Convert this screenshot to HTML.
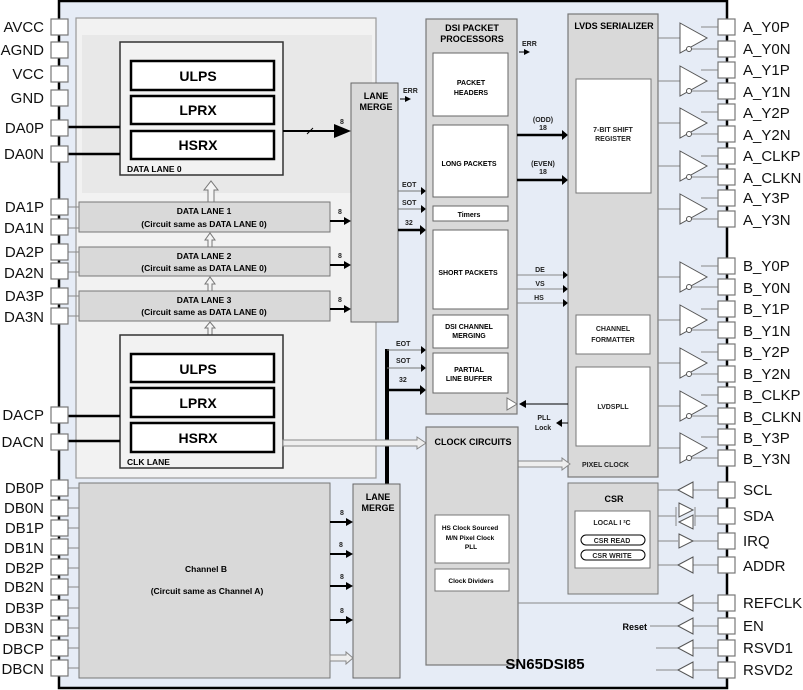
<!DOCTYPE html>
<html><head><meta charset="utf-8"><style>
html,body{margin:0;padding:0;background:#fff;}
svg{display:block;font-family:"Liberation Sans",Arial,sans-serif;}
.b{font-weight:bold;}
.pin{fill:#fff;stroke:#777;stroke-width:1.2;}
.pl{font-size:15px;fill:#111;}
.g{stroke:#888;stroke-width:1;fill:none;}
.s{font-size:7px;font-weight:bold;fill:#222;}
</style></head><body>
<svg width="803" height="690" viewBox="0 0 803 690">
<defs>
<marker id="ar" markerWidth="6" markerHeight="6" refX="5" refY="3" orient="auto" markerUnits="userSpaceOnUse"><path d="M0,0 L6,3 L0,6z" fill="#000"/></marker>
</defs>
<rect x="59" y="1" width="668" height="687" fill="#e6ecf6" stroke="#000" stroke-width="2.5"/>
<rect x="76" y="18" width="300" height="460" fill="#f2f2f2" stroke="#999" stroke-width="1.2"/>
<rect x="82" y="35" width="290" height="158" fill="#e8e8e8"/>
<rect x="120" y="42" width="163" height="133" fill="#f2f2f2" stroke="#333" stroke-width="1.5"/>
<rect x="131" y="61" width="143" height="29" fill="#fff" stroke="#000" stroke-width="2.5"/>
<rect x="131" y="96" width="143" height="28" fill="#fff" stroke="#000" stroke-width="2.5"/>
<rect x="131" y="131" width="143" height="28" fill="#fff" stroke="#000" stroke-width="2.5"/>
<text x="198" y="81" class="b" font-size="14" text-anchor="middle">ULPS</text>
<text x="198" y="115" class="b" font-size="14" text-anchor="middle">LPRX</text>
<text x="198" y="150" class="b" font-size="14" text-anchor="middle">HSRX</text>
<text x="127" y="172" class="b" font-size="8.5">DATA LANE 0</text>
<rect x="79" y="202" width="251" height="30" fill="#d9d9d9" stroke="#777"/>
<rect x="79" y="247" width="251" height="29" fill="#d9d9d9" stroke="#777"/>
<rect x="79" y="291" width="251" height="30" fill="#d9d9d9" stroke="#777"/>
<g class="b" font-size="8.5" text-anchor="middle">
<text x="204" y="214">DATA LANE 1</text><text x="204" y="227">(Circuit same as DATA LANE 0)</text>
<text x="204" y="259">DATA LANE 2</text><text x="204" y="271">(Circuit same as DATA LANE 0)</text>
<text x="204" y="303">DATA LANE 3</text><text x="204" y="315">(Circuit same as DATA LANE 0)</text>
</g>
<g fill="#f4f4f4" stroke="#777">
<path d="M208,202 V190 H204 L211,181 L218,190 H214 V202z"/>
<path d="M208,247 V240 H205 L210,233 L215,240 H212 V247z"/>
<path d="M208,291 V284 H205 L210,277 L215,284 H212 V291z"/>
<path d="M208,335 V328 H205 L210,322 L215,328 H212 V335z"/>
</g>
<rect x="120" y="335" width="163" height="133" fill="#f2f2f2" stroke="#333" stroke-width="1.5"/>
<rect x="131" y="354" width="143" height="28" fill="#fff" stroke="#000" stroke-width="2.5"/>
<rect x="131" y="388" width="143" height="29" fill="#fff" stroke="#000" stroke-width="2.5"/>
<rect x="131" y="423" width="143" height="29" fill="#fff" stroke="#000" stroke-width="2.5"/>
<text x="198" y="374" class="b" font-size="14" text-anchor="middle">ULPS</text>
<text x="198" y="408" class="b" font-size="14" text-anchor="middle">LPRX</text>
<text x="198" y="443" class="b" font-size="14" text-anchor="middle">HSRX</text>
<text x="127" y="465" class="b" font-size="8.5">CLK LANE</text>
<rect x="351" y="83" width="47" height="239" fill="#d9d9d9" stroke="#666"/>
<text x="376" y="99" class="b" font-size="9" text-anchor="middle">LANE</text>
<text x="376" y="110" class="b" font-size="9" text-anchor="middle">MERGE</text>
<text x="403" y="93" class="s">ERR</text><line x1="400" y1="99" x2="410" y2="99" stroke="#000" marker-end="url(#ar)"/>
<line x1="283" y1="131" x2="340" y2="131" stroke="#000" stroke-width="2"/>
<path d="M334,124 L351,131 L334,138z"/>
<line x1="307" y1="134" x2="313" y2="128" stroke="#000"/>
<text x="340" y="124" class="s">8</text>
<g stroke="#000" stroke-width="2"><line x1="330" y1="221" x2="345" y2="221"/><line x1="330" y1="265" x2="345" y2="265"/><line x1="330" y1="309" x2="345" y2="309"/></g>
<path d="M344,217 L351,221 L344,225z M344,261 L351,265 L344,269z M344,305 L351,309 L344,313z"/>
<text x="338" y="214" class="s">8</text><text x="338" y="258" class="s">8</text><text x="338" y="302" class="s">8</text>
<text x="402" y="187" class="s">EOT</text><line x1="398" y1="191" x2="424" y2="191" stroke="#777"/><path d="M421,187 L426,191 L421,195z"/>
<text x="402" y="205" class="s">SOT</text><line x1="398" y1="209" x2="424" y2="209" stroke="#777"/><path d="M421,205 L426,209 L421,213z"/>
<text x="405" y="225" class="s">32</text><line x1="398" y1="230" x2="422" y2="230" stroke="#000" stroke-width="2.5"/><path d="M420,225 L426,230 L420,235z"/>
<line x1="387" y1="349" x2="387" y2="484" stroke="#000" stroke-width="4"/>
<text x="396" y="346" class="s">EOT</text><line x1="387" y1="350" x2="424" y2="350" stroke="#777"/><path d="M421,346 L426,350 L421,354z"/>
<text x="396" y="363" class="s">SOT</text><line x1="387" y1="368" x2="424" y2="368" stroke="#777"/><path d="M421,364 L426,368 L421,372z"/>
<text x="399" y="382" class="s">32</text><line x1="387" y1="390" x2="422" y2="390" stroke="#000" stroke-width="2.5"/><path d="M420,385 L426,390 L420,395z"/>
<path d="M283,440 H417 V437 L426,443 L417,449 V446 H283z" fill="#eee" stroke="#888"/>
<rect x="79" y="483" width="251" height="195" fill="#d9d9d9" stroke="#777"/>
<text x="206" y="572" class="b" font-size="8.5" text-anchor="middle">Channel B</text>
<text x="207" y="594" class="b" font-size="8.5" text-anchor="middle">(Circuit same as Channel A)</text>
<rect x="353" y="484" width="47" height="194" fill="#d9d9d9" stroke="#666"/>
<text x="378" y="500" class="b" font-size="9" text-anchor="middle">LANE</text>
<text x="378" y="511" class="b" font-size="9" text-anchor="middle">MERGE</text>
<g stroke="#000" stroke-width="2"><line x1="330" y1="522" x2="347" y2="522"/><line x1="330" y1="554" x2="347" y2="554"/><line x1="330" y1="586" x2="347" y2="586"/><line x1="330" y1="620" x2="347" y2="620"/></g>
<path d="M346,518 L353,522 L346,526z M346,550 L353,554 L346,558z M346,582 L353,586 L346,590z M346,616 L353,620 L346,624z"/>
<text x="340" y="515" class="s">8</text><text x="339" y="547" class="s">8</text><text x="340" y="579" class="s">8</text><text x="340" y="613" class="s">8</text>
<path d="M330,655 H346 V652 L353,658 L346,664 V661 H330z" fill="#eee" stroke="#888"/>
<rect x="426" y="19" width="91" height="395" fill="#d9d9d9" stroke="#777" stroke-width="1.2"/>
<text x="472" y="31" class="b" font-size="9" text-anchor="middle">DSI PACKET</text>
<text x="472" y="42" class="b" font-size="9" text-anchor="middle">PROCESSORS</text>
<g fill="#fff" stroke="#666">
<rect x="433" y="53" width="75" height="63"/><rect x="433" y="125" width="75" height="72"/>
<rect x="433" y="206" width="75" height="15"/><rect x="433" y="230" width="75" height="79"/>
<rect x="433" y="315" width="75" height="33"/><rect x="433" y="353" width="75" height="40"/>
</g>
<g class="b" font-size="7" text-anchor="middle">
<text x="471" y="85">PACKET</text><text x="471" y="95">HEADERS</text>
<text x="469" y="166">LONG PACKETS</text><text x="469" y="217">Timers</text>
<text x="468" y="275">SHORT PACKETS</text>
<text x="469" y="329">DSI CHANNEL</text><text x="469" y="338">MERGING</text>
<text x="469" y="372">PARTIAL</text><text x="469" y="381">LINE BUFFER</text>
</g>
<text x="522" y="46" class="s">ERR</text><line x1="519" y1="52" x2="529" y2="52" stroke="#000" marker-end="url(#ar)"/>
<text x="543" y="122" class="s" text-anchor="middle">(ODD)</text><text x="543" y="130" class="s" text-anchor="middle">18</text>
<line x1="517" y1="135" x2="563" y2="135" stroke="#000" stroke-width="2.5"/><path d="M562,130 L568,135 L562,140z"/>
<text x="543" y="166" class="s" text-anchor="middle">(EVEN)</text><text x="543" y="174" class="s" text-anchor="middle">18</text>
<line x1="517" y1="180" x2="563" y2="180" stroke="#000" stroke-width="2.5"/><path d="M562,175 L568,180 L562,185z"/>
<text x="540" y="272" class="s" text-anchor="middle">DE</text><line x1="517" y1="275" x2="565" y2="275" stroke="#888"/><path d="M563,271 L568,275 L563,279z"/>
<text x="540" y="286" class="s" text-anchor="middle">VS</text><line x1="517" y1="289" x2="565" y2="289" stroke="#888"/><path d="M563,285 L568,289 L563,293z"/>
<text x="539" y="300" class="s" text-anchor="middle">HS</text><line x1="517" y1="303" x2="565" y2="303" stroke="#888"/><path d="M563,299 L568,303 L563,307z"/>
<rect x="568" y="14" width="90" height="463" fill="#d9d9d9" stroke="#777" stroke-width="1.2"/>
<text x="614" y="29" class="b" font-size="9" text-anchor="middle">LVDS SERIALIZER</text>
<rect x="576" y="79" width="75" height="114" fill="#fff" stroke="#777"/>
<text x="613" y="132" class="s" text-anchor="middle">7-BIT SHIFT</text><text x="613" y="141" class="s" text-anchor="middle">REGISTER</text>
<rect x="576" y="315" width="74" height="39" fill="#fff" stroke="#777"/>
<text x="613" y="331" class="s" text-anchor="middle">CHANNEL</text><text x="613" y="342" class="s" text-anchor="middle">FORMATTER</text>
<rect x="576" y="367" width="74" height="79" fill="#fff" stroke="#777"/>
<text x="613" y="409" class="s" text-anchor="middle">LVDSPLL</text>
<line x1="568" y1="404" x2="521" y2="404" stroke="#000"/><path d="M526,400 L519,404 L526,408z"/>
<path d="M517,404 L507,398 V410z" fill="#fff" stroke="#777"/>
<text x="544" y="420" class="s" text-anchor="middle">PLL</text><text x="543" y="430" class="s" text-anchor="middle">Lock</text>
<line x1="568" y1="423" x2="559" y2="423" stroke="#000"/><path d="M562,419 L556,423 L562,427z"/>
<path d="M518,461 H562 V458 L570,464 L562,470 V467 H518z" fill="#eee" stroke="#888"/>
<text x="582" y="467" class="s">PIXEL CLOCK</text>
<rect x="426" y="427" width="92" height="238" fill="#d9d9d9" stroke="#777" stroke-width="1.2"/>
<text x="473" y="445" class="b" font-size="9" text-anchor="middle">CLOCK CIRCUITS</text>
<rect x="435" y="515" width="74" height="48" fill="#fff" stroke="#777"/>
<rect x="435" y="569" width="74" height="22" fill="#fff" stroke="#777"/>
<g font-size="6.5" class="b" text-anchor="middle"><text x="470" y="530">HS Clock Sourced</text><text x="470" y="540">M/N Pixel Clock</text><text x="471" y="549">PLL</text>
<text x="471" y="583">Clock Dividers</text></g>
<rect x="568" y="483" width="90" height="111" fill="#d9d9d9" stroke="#777"/>
<text x="614" y="502" class="b" font-size="9" text-anchor="middle">CSR</text>
<rect x="575" y="511" width="75" height="57" fill="#fff" stroke="#777"/>
<text x="612" y="525" class="s" text-anchor="middle">LOCAL I ²C</text>
<rect x="581" y="535" width="64" height="10" rx="5" fill="#fff" stroke="#000"/>
<rect x="581" y="550" width="64" height="10" rx="5" fill="#fff" stroke="#000"/>
<text x="612" y="543" class="s" text-anchor="middle">CSR READ</text><text x="612" y="558" class="s" text-anchor="middle">CSR WRITE</text>
<text x="545" y="669" class="b" font-size="15" text-anchor="middle">SN65DSI85</text>
<g stroke="#000" stroke-width="2.5"><line x1="68" y1="127" x2="120" y2="127"/><line x1="68" y1="154" x2="120" y2="154"/><line x1="68" y1="416" x2="120" y2="416"/><line x1="68" y1="441" x2="120" y2="441"/></g>
<g class="g">
<line x1="68" y1="207" x2="79" y2="207"/><line x1="68" y1="228" x2="79" y2="228"/>
<line x1="68" y1="252" x2="79" y2="252"/><line x1="68" y1="272" x2="79" y2="272"/>
<line x1="68" y1="296" x2="79" y2="296"/><line x1="68" y1="316" x2="79" y2="316"/>
<line x1="68" y1="488" x2="79" y2="488"/><line x1="68" y1="508" x2="79" y2="508"/><line x1="68" y1="528" x2="79" y2="528"/><line x1="68" y1="548" x2="79" y2="548"/><line x1="68" y1="568" x2="79" y2="568"/><line x1="68" y1="587" x2="79" y2="587"/><line x1="68" y1="608" x2="79" y2="608"/><line x1="68" y1="628" x2="79" y2="628"/><line x1="68" y1="648" x2="79" y2="648"/><line x1="68" y1="668" x2="79" y2="668"/>
</g>
<g class="pin">
<rect x="51" y="19" width="17" height="16"/><rect x="51" y="42" width="17" height="16"/><rect x="51" y="66" width="17" height="16"/><rect x="51" y="90" width="17" height="16"/>
<rect x="51" y="120" width="17" height="16"/><rect x="51" y="146" width="17" height="16"/>
<rect x="51" y="199" width="17" height="16"/><rect x="51" y="219" width="17" height="16"/><rect x="51" y="244" width="17" height="16"/><rect x="51" y="263" width="17" height="16"/><rect x="51" y="288" width="17" height="16"/><rect x="51" y="308" width="17" height="16"/>
<rect x="51" y="407" width="17" height="16"/><rect x="51" y="434" width="17" height="16"/>
<rect x="51" y="480" width="17" height="16"/><rect x="51" y="500" width="17" height="16"/><rect x="51" y="520" width="17" height="16"/><rect x="51" y="539" width="17" height="16"/><rect x="51" y="559" width="17" height="16"/><rect x="51" y="579" width="17" height="16"/><rect x="51" y="600" width="17" height="16"/><rect x="51" y="620" width="17" height="16"/><rect x="51" y="640" width="17" height="16"/><rect x="51" y="660" width="17" height="16"/>
</g>
<g class="pl" text-anchor="end">
<text x="44" y="32">AVCC</text><text x="44" y="55">AGND</text><text x="44" y="79">VCC</text><text x="44" y="103">GND</text>
<text x="44" y="133">DA0P</text><text x="44" y="159">DA0N</text>
<text x="44" y="212">DA1P</text><text x="44" y="233">DA1N</text><text x="44" y="257">DA2P</text><text x="44" y="278">DA2N</text><text x="44" y="301">DA3P</text><text x="44" y="322">DA3N</text>
<text x="44" y="420">DACP</text><text x="44" y="447">DACN</text>
<text x="44" y="493">DB0P</text><text x="44" y="513">DB0N</text><text x="44" y="533">DB1P</text><text x="44" y="553">DB1N</text><text x="44" y="573">DB2P</text><text x="44" y="592">DB2N</text><text x="44" y="613">DB3P</text><text x="44" y="633">DB3N</text><text x="44" y="654">DBCP</text><text x="44" y="674">DBCN</text>
</g>
<g stroke="#888" fill="none">
<path d="M658,38H680 M701,27H718 M689,49H718 M658,81H680 M701,70H718 M689,91H718 M658,123H680 M701,112H718 M689,134H718 M658,166H680 M701,156H718 M689,177H718 M658,209H680 M701,198H718 M689,219H718"/>
<path d="M658,277H680 M701,266H718 M689,287H718 M658,320H680 M701,309H718 M689,330H718 M658,363H680 M701,352H718 M689,374H718 M658,406H680 M701,395H718 M689,416H718 M658,448H680 M701,437H718 M689,458H718"/>
</g>
<g fill="#fff" stroke="#555" stroke-width="1">
<path d="M680,23L707,38L680,53z"/><circle cx="689" cy="49" r="2.5"/>
<path d="M680,66L707,81L680,96z"/><circle cx="689" cy="91" r="2.5"/>
<path d="M680,108L707,123L680,138z"/><circle cx="689" cy="134" r="2.5"/>
<path d="M680,151L707,166L680,181z"/><circle cx="689" cy="177" r="2.5"/>
<path d="M680,194L707,209L680,224z"/><circle cx="689" cy="219" r="2.5"/>
<path d="M680,262L707,277L680,292z"/><circle cx="689" cy="287" r="2.5"/>
<path d="M680,305L707,320L680,335z"/><circle cx="689" cy="330" r="2.5"/>
<path d="M680,348L707,363L680,378z"/><circle cx="689" cy="374" r="2.5"/>
<path d="M680,391L707,406L680,421z"/><circle cx="689" cy="416" r="2.5"/>
<path d="M680,433L707,448L680,463z"/><circle cx="689" cy="458" r="2.5"/>
</g>
<g stroke="#888" fill="none">
<path d="M658,490H678 M693,490H718 M658,516H676 M695,516H718 M676,507V526 M695,507V526 M658,541H678 M693,541H718 M658,565H678 M693,565H718 M518,603H678 M693,603H718 M650,626H678 M693,626H718 M656,648H678 M693,648H718 M656,670H678 M693,670H718"/>
</g>
<g fill="#fff" stroke="#555">
<path d="M678,490L693,482V498z"/>
<path d="M679,503L693,510L679,517z"/><path d="M679,522L693,515V529z"/>
<path d="M679,534L693,541L679,548z"/>
<path d="M678,565L693,557V573z"/><path d="M678,603L693,595V611z"/><path d="M678,626L693,618V634z"/><path d="M678,648L693,640V656z"/><path d="M678,670L693,662V678z"/>
</g>
<text x="647" y="630" class="b" font-size="9" text-anchor="end">Reset</text>
<g class="pin">
<rect x="718" y="19" width="17" height="16"/><rect x="718" y="41" width="17" height="16"/><rect x="718" y="62" width="17" height="16"/><rect x="718" y="83" width="17" height="16"/><rect x="718" y="104" width="17" height="16"/><rect x="718" y="126" width="17" height="16"/><rect x="718" y="148" width="17" height="16"/><rect x="718" y="169" width="17" height="16"/><rect x="718" y="190" width="17" height="16"/><rect x="718" y="211" width="17" height="16"/>
<rect x="718" y="258" width="17" height="16"/><rect x="718" y="279" width="17" height="16"/><rect x="718" y="301" width="17" height="16"/><rect x="718" y="322" width="17" height="16"/><rect x="718" y="344" width="17" height="16"/><rect x="718" y="366" width="17" height="16"/><rect x="718" y="387" width="17" height="16"/><rect x="718" y="408" width="17" height="16"/><rect x="718" y="429" width="17" height="16"/><rect x="718" y="450" width="17" height="16"/>
<rect x="718" y="482" width="17" height="16"/><rect x="718" y="508" width="17" height="16"/><rect x="718" y="533" width="17" height="16"/><rect x="718" y="557" width="17" height="16"/>
<rect x="718" y="595" width="17" height="16"/><rect x="718" y="618" width="17" height="16"/><rect x="718" y="640" width="17" height="16"/><rect x="718" y="662" width="17" height="16"/>
</g>
<g class="pl">
<text x="743" y="32">A_Y0P</text><text x="743" y="54">A_Y0N</text><text x="743" y="75">A_Y1P</text><text x="743" y="97">A_Y1N</text><text x="743" y="118">A_Y2P</text><text x="743" y="140">A_Y2N</text><text x="743" y="161">A_CLKP</text><text x="743" y="183">A_CLKN</text><text x="743" y="203">A_Y3P</text><text x="743" y="225">A_Y3N</text>
<text x="743" y="271">B_Y0P</text><text x="743" y="293">B_Y0N</text><text x="743" y="314">B_Y1P</text><text x="743" y="336">B_Y1N</text><text x="743" y="357">B_Y2P</text><text x="743" y="379">B_Y2N</text><text x="743" y="400">B_CLKP</text><text x="743" y="422">B_CLKN</text><text x="743" y="443">B_Y3P</text><text x="743" y="464">B_Y3N</text>
<text x="743" y="495">SCL</text><text x="743" y="521">SDA</text><text x="743" y="546">IRQ</text><text x="743" y="571">ADDR</text>
<text x="743" y="608">REFCLK</text><text x="743" y="631">EN</text><text x="743" y="653">RSVD1</text><text x="743" y="675">RSVD2</text>
</g>
</svg>
</body></html>
